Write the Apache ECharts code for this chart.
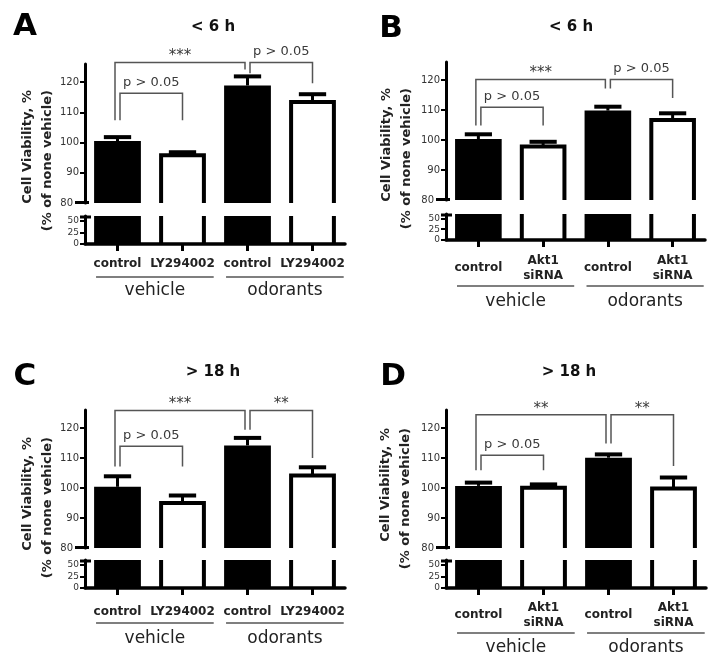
<!DOCTYPE html>
<html><head><meta charset="utf-8">
<script src="https://cdn.jsdelivr.net/npm/echarts@6/dist/echarts.min.js"></script>
<style>html,body{margin:0;padding:0;background:#fff}#c{width:716px;height:668px}</style>
</head><body><div id="c"></div>
<script>
// ---------- data ----------
const categoriesLY = ['control', 'LY294002', 'control', 'LY294002'];
const categoriesAkt = ['control', 'Akt1\nsiRNA', 'control', 'Akt1\nsiRNA'];
const groups = ['vehicle', 'odorants'];
const groupMembers = [[0, 1], [2, 3]];
const filledBars = [true, false, true, false];

const meansA = [100.5, 95.8, 118.9, 113.4];
const errA   = [1.3, 1.0, 3.0, 2.6];
const meansB = [100.3, 97.8, 109.8, 106.7];
const errB   = [1.6, 1.6, 1.3, 2.2];
const meansC = [100.4, 95.0, 114.2, 104.2];
const errC   = [3.5, 2.5, 2.5, 2.7];
const meansD = [100.7, 100.1, 110.1, 99.8];
const errD   = [1.1, 1.1, 1.1, 3.7];

// [fromCat, toCat, topValue, leftLegEnd, rightLegEnd, label]
const bracketsA = [[0, 2, 126.5, 107.4, 124.2, '***'], [2, 3, 126.5, 122.9, 119.6, 'p > 0.05'], [0, 1, 116.3, 107.4, 107.4, 'p > 0.05']];
const bracketsB = [[0, 2, 120.2, 104.8, 117.2, '***'], [2, 3, 120.2, 117.2, 114.0, 'p > 0.05'], [0, 1, 110.9, 104.8, 104.8, 'p > 0.05']];
const bracketsC = [[0, 2, 125.8, 107.2, 119.4, '***'], [2, 3, 125.8, 119.4, 110.0, '**'], [0, 1, 113.9, 107.2, 107.2, 'p > 0.05']];
const bracketsD = [[0, 2, 124.4, 105.9, 114.8, '**'], [2, 3, 124.4, 114.8, 107.3, '**'], [0, 1, 110.9, 105.9, 105.9, 'p > 0.05']];

const upperMin = 80, upperMax = 126;
const lowerMin = 0, lowerMax = 60;
const upperTicks = [80, 90, 100, 110, 120];
const lowerTickMarks = [0, 25, 50];
const lowerTickLabels = [0, 25, 50];

const panelLetters = ['A', 'B', 'C', 'D'];
const panelTitles = ['< 6 h', '< 6 h', '> 18 h', '> 18 h'];
const yAxisTitle = 'Cell Viability, %\n(% of none vehicle)';

const panelCats = [categoriesLY, categoriesAkt, categoriesLY, categoriesAkt];
const panelMeans = [meansA, meansB, meansC, meansD];
const panelErrs = [errA, errB, errC, errD];
const panelBrackets = [bracketsA, bracketsB, bracketsC, bracketsD];

// ---------- layout ----------
const layouts = [
  {left: 85,  width: 260, upTop: 64,  upBot: 203, loTop: 216, loBot: 244, labelMargin: 20, ulOff: 33, glOff: 47, title: [213, 27],  letter: [25, 27],  yname: [38, 90]},
  {left: 446, width: 259, upTop: 62,  upBot: 200, loTop: 214, loBot: 240, labelMargin: 28, ulOff: 46, glOff: 62, title: [571, 27],  letter: [391, 29], yname: [397, 88]},
  {left: 85,  width: 260, upTop: 410, upBot: 548, loTop: 560, loBot: 588, labelMargin: 24, ulOff: 35, glOff: 51, title: [213, 372], letter: [25, 377], yname: [38, 437]},
  {left: 446, width: 260, upTop: 410, upBot: 548, loTop: 560, loBot: 588, labelMargin: 27, ulOff: 45, glOff: 60, title: [569, 372], letter: [393, 377], yname: [396, 428]}
];

const INK = '#000';
const FONT = '"DejaVu Sans", sans-serif';

function makeBarRender(segMin, segMax, upper) {
  return function (params, api) {
    const i = api.value(0), v = api.value(1), e = api.value(2);
    const band = api.size([1, 0])[0];
    const bw = band * 0.72;
    const cx = api.coord([i, v])[0];
    const base = api.coord([i, segMin])[1];
    const ceil = api.coord([i, segMax])[1];
    const top = Math.max(api.coord([i, v])[1], ceil);
    const x0 = cx - bw / 2, x1 = cx + bw / 2;
    const ch = [];
    if (filledBars[i]) {
      ch.push({type: 'rect', shape: {x: x0, y: top, width: bw, height: base - top}, style: {fill: INK}});
    } else if (upper) {
      ch.push({type: 'polyline', shape: {points: [[x0 + 2, base], [x0 + 2, top], [x1 - 2, top], [x1 - 2, base]]},
        style: {stroke: INK, lineWidth: 4, fill: 'none'}});
    } else {
      ch.push({type: 'line', shape: {x1: x0 + 2, y1: base, x2: x0 + 2, y2: top}, style: {stroke: INK, lineWidth: 4}});
      ch.push({type: 'line', shape: {x1: x1 - 2, y1: base, x2: x1 - 2, y2: top}, style: {stroke: INK, lineWidth: 4}});
    }
    if (upper) {
      const ey = api.coord([i, v + e])[1];
      const cw = band * 0.42;
      ch.push({type: 'line', shape: {x1: cx, y1: top, x2: cx, y2: ey}, style: {stroke: INK, lineWidth: 3}});
      ch.push({type: 'line', shape: {x1: cx - cw / 2, y1: ey, x2: cx + cw / 2, y2: ey}, style: {stroke: INK, lineWidth: 4}});
    }
    // axis break caps, drawn at the value axis (left edge of the first band)
    if (i === 0) {
      const ax = cx - band / 2;
      if (upper) {
        ch.push({type: 'line', shape: {x1: ax - 10, y1: base - 0.5, x2: ax + 4, y2: base - 0.5}, style: {stroke: INK, lineWidth: 3}});
      } else {
        ch.push({type: 'line', shape: {x1: ax - 5, y1: ceil + 1, x2: ax + 6, y2: ceil + 1}, style: {stroke: INK, lineWidth: 3}});
      }
    }
    return {type: 'group', children: ch};
  };
}

function legNudge(list, idx, end) {
  const b = list[idx];
  const c = end === 'L' ? b[0] : b[1];
  const span = b[1] - b[0];
  let n = 0;
  list.forEach(function (o, j) {
    if (j === idx) return;
    if (end === 'L') {
      if (o[1] === c) n = 2.5;
      else if (o[0] === c) n = (o[1] - o[0] > span) ? 2.5 : -2.5;
    } else if (o[0] === c) n = -2.5;
  });
  return n;
}

function makeBracketRender(list) {
  return function (params, api) {
    const b = list[params.dataIndex];
    const xl = api.coord([b[0], b[2]])[0] + legNudge(list, params.dataIndex, 'L');
    const xr = api.coord([b[1], b[2]])[0] + legNudge(list, params.dataIndex, 'R');
    const yt = api.coord([b[0], b[2]])[1];
    const yl = api.coord([b[0], b[3]])[1];
    const yr = api.coord([b[1], b[4]])[1];
    const stars = b[5].indexOf('*') === 0;
    return {type: 'group', children: [
      {type: 'polyline', shape: {points: [[xl, yl], [xl, yt], [xr, yt], [xr, yr]]},
        style: {stroke: '#555', lineWidth: 1.5, fill: 'none'}},
      {type: 'text', style: {text: b[5], x: (xl + xr) / 2, y: yt - (stars ? 6 : 11),
        align: 'center', verticalAlign: 'middle', fill: '#3a3a3a',
        font: (stars ? '15px ' : '13px ') + FONT}}
    ]};
  };
}

function makeGroupRender(L) {
  return function (params, api) {
    const m = groupMembers[params.dataIndex];
    const band = api.size([1, 0])[0];
    const xa = api.coord([m[0], 0])[0] - band * 0.33;
    const xb = api.coord([m[m.length - 1], 0])[0] + band * 0.48;
    const y0 = api.coord([m[0], 0])[1];
    return {type: 'group', children: [
      {type: 'line', shape: {x1: xa, y1: y0 + L.ulOff, x2: xb, y2: y0 + L.ulOff}, style: {stroke: '#555', lineWidth: 1.5}},
      {type: 'text', style: {text: groups[params.dataIndex], x: (xa + xb) / 2, y: y0 + L.glOff,
        align: 'center', verticalAlign: 'middle', fill: '#222', font: '17px ' + FONT}}
    ]};
  };
}

const option = {animation: false, backgroundColor: '#fff', grid: [], xAxis: [], yAxis: [], series: [], graphic: []};

panelLetters.forEach(function (letter, k) {
  const L = layouts[k];
  const gu = k * 2, gl = k * 2 + 1;
  const barData = panelMeans[k].map(function (m, i) { return [i, m, panelErrs[k][i]]; });

  option.grid.push({left: L.left, top: L.upTop, width: L.width, height: L.upBot - L.upTop, containLabel: false, outerBoundsMode: 'none'});
  option.grid.push({left: L.left, top: L.loTop, width: L.width, height: L.loBot - L.loTop, containLabel: false, outerBoundsMode: 'none'});

  option.xAxis.push({type: 'category', gridIndex: gu, data: panelCats[k], show: false});
  option.xAxis.push({type: 'category', gridIndex: gl, data: panelCats[k],
    axisLine: {show: true, lineStyle: {color: INK, width: 3.5}},
    axisTick: {show: true, alignWithLabel: true, length: 7, lineStyle: {color: INK, width: 3}},
    splitLine: {show: false},
    axisLabel: {interval: 0, margin: L.labelMargin, verticalAlign: 'middle', fontFamily: FONT, fontWeight: 'bold',
      fontSize: 12, lineHeight: 15, color: '#222'}});

  option.yAxis.push({type: 'value', gridIndex: gu, min: upperMin, max: upperMax, interval: 10,
    splitLine: {show: false},
    axisLine: {show: true, lineStyle: {color: INK, width: 3}},
    axisTick: {show: true, length: 5, lineStyle: {color: INK, width: 2}, customValues: upperTicks},
    axisLabel: {customValues: upperTicks, fontSize: 10, color: '#333', margin: 6, fontFamily: FONT,
      formatter: function (v) { return v === upperMin ? '{cap|' + v + '}' : String(v); },
      rich: {cap: {fontSize: 10, color: '#333', fontFamily: FONT, padding: [0, 6, 0, 0]}}}});
  option.yAxis.push({type: 'value', gridIndex: gl, min: lowerMin, max: lowerMax, interval: 25,
    splitLine: {show: false},
    axisLine: {show: true, lineStyle: {color: INK, width: 3}},
    axisTick: {show: true, length: 5, lineStyle: {color: INK, width: 2}, customValues: lowerTickMarks},
    axisLabel: {customValues: lowerTickLabels, fontSize: 9, color: '#333', margin: 6, fontFamily: FONT}});

  option.series.push({type: 'custom', xAxisIndex: gu, yAxisIndex: gu, data: barData,
    renderItem: makeBarRender(upperMin, upperMax, true), z: 3});
  option.series.push({type: 'custom', xAxisIndex: gl, yAxisIndex: gl, data: barData,
    renderItem: makeBarRender(lowerMin, lowerMax, false), z: 3});
  option.series.push({type: 'custom', xAxisIndex: gu, yAxisIndex: gu,
    data: panelBrackets[k].map(function (b) { return [b[0], b[2]]; }),
    renderItem: makeBracketRender(panelBrackets[k]), z: 4});
  option.series.push({type: 'custom', xAxisIndex: gl, yAxisIndex: gl,
    data: groupMembers.map(function (m) { return [m[0], 0]; }),
    renderItem: makeGroupRender(L), z: 4});

  option.graphic.push({type: 'text', x: L.title[0], y: L.title[1],
    style: {text: panelTitles[k], font: 'bold 15px ' + FONT, fill: '#111', align: 'center', verticalAlign: 'middle'}});
  option.graphic.push({type: 'text', x: L.letter[0], y: L.letter[1],
    style: {text: letter, font: 'bold 31px ' + FONT, fill: '#000', align: 'center', verticalAlign: 'middle'}});
  option.graphic.push({type: 'text', x: L.yname[0], y: L.yname[1], rotation: Math.PI / 2,
    style: {text: yAxisTitle, font: 'bold 13px ' + FONT, fill: '#222', align: 'right', verticalAlign: 'middle', lineHeight: 20}});
});

const chart = echarts.init(document.getElementById('c'), null, {renderer: 'canvas'});
chart.setOption(option);
</script>
</body></html>
